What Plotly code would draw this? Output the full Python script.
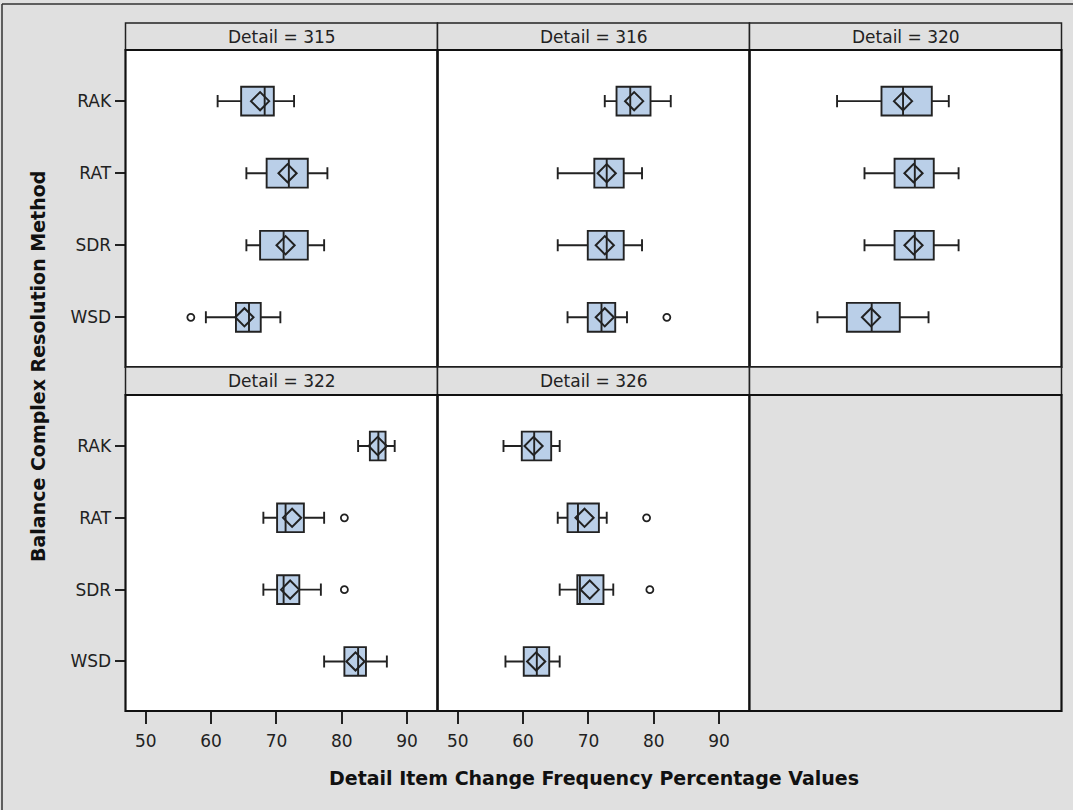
import plotly.graph_objects as go

# Panels (one per Detail value) and the methods on the category axis
DETAILS = [315, 316, 320, 322, 326]
METHODS = ["RAK", "RAT", "SDR", "WSD"]
X_TICKS = [50, 60, 70, 80, 90]

# Box statistics per detail, in METHODS order
WHISKER_LO = [
    [61.0, 65.4, 65.4, 59.2],
    [72.5, 65.3, 65.3, 66.8],
    [60.3, 64.5, 64.5, 57.3],
    [82.5, 68.0, 68.0, 77.3],
    [57.0, 65.3, 65.6, 57.3],
]
Q1 = [
    [64.6, 68.5, 67.5, 63.8],
    [74.3, 70.9, 69.9, 69.9],
    [67.1, 69.1, 69.1, 61.8],
    [84.3, 70.1, 70.1, 80.4],
    [59.8, 66.8, 68.3, 60.1],
]
MEDIAN = [
    [68.2, 71.9, 71.1, 65.8],
    [76.4, 72.8, 72.8, 72.0],
    [70.4, 72.2, 72.2, 65.6],
    [85.6, 71.4, 71.1, 82.5],
    [61.7, 68.4, 68.7, 62.1],
]
Q3 = [
    [69.6, 74.8, 74.8, 67.6],
    [79.5, 75.4, 75.4, 74.1],
    [74.8, 75.1, 75.1, 69.9],
    [86.7, 74.2, 73.5, 83.7],
    [64.3, 71.6, 72.3, 64.0],
]
WHISKER_HI = [
    [72.7, 77.8, 77.3, 70.6],
    [82.6, 78.2, 78.2, 75.9],
    [77.4, 78.9, 78.9, 74.3],
    [88.1, 77.3, 76.8, 86.9],
    [65.6, 72.8, 73.8, 65.6],
]
MEAN = [
    [67.5, 71.7, 71.4, 65.1],
    [77.0, 72.8, 72.5, 72.5],
    [70.4, 72.0, 72.0, 65.5],
    [85.5, 72.4, 72.1, 82.1],
    [61.6, 69.4, 70.2, 62.0],
]

# Outlying observations
OUT_DETAIL = [315, 316, 322, 322, 326, 326]
OUT_METHOD = ["WSD", "WSD", "RAT", "SDR", "RAT", "SDR"]
OUT_VALUE = [56.9, 82.0, 80.4, 80.4, 78.9, 79.4]

W, H = 1073, 810
BG = "#E0E0E0"
FILL = "#BACFE8"
INK = "#222222"
FONT = "DejaVu Sans, Verdana, sans-serif"
VALUE_SIZE = 17
LABEL_SIZE = 19


def px(x):
    return x / W


def py(y):
    return 1 - y / H


COL_EDGES = [125.5, 437.5, 749.5, 1061.5]
ROW_PLOT = [(50, 367), (395, 711)]
ROW_HEAD = [(23, 50), (367, 395)]

fig = go.Figure()
layout = dict(
    width=W, height=H,
    margin=dict(l=0, r=0, t=0, b=0),
    paper_bgcolor=BG, plot_bgcolor="white",
    showlegend=False,
    font=dict(family=FONT, size=VALUE_SIZE, color=INK),
)
shapes = []
annotations = []

for k in range(6):
    r, c = divmod(k, 3)
    n = k + 1
    xa, ya = f"x{n}", f"y{n}"
    x0, x1 = COL_EDGES[c], COL_EDGES[c + 1]
    y0, y1 = ROW_PLOT[r]
    layout[f"xaxis{n}"] = dict(
        domain=[px(x0), px(x1)], anchor=ya, range=[46.9, 94.65],
        tickvals=X_TICKS, showgrid=False, zeroline=False, showline=False,
        ticks="outside" if r == 1 else "", ticklen=12, tickwidth=1.5,
        tickcolor=INK, showticklabels=(r == 1), ticklabelstandoff=3,
        tickfont=dict(size=VALUE_SIZE, color=INK),
    )
    layout[f"yaxis{n}"] = dict(
        domain=[py(y1), py(y0)], anchor=xa, type="category",
        categoryorder="array", categoryarray=METHODS,
        range=[3.69, -0.71], showgrid=False, zeroline=False, showline=False,
        ticks="outside" if c == 0 else "", ticklen=10, tickwidth=1.5,
        tickcolor=INK, showticklabels=(c == 0),
        tickfont=dict(size=VALUE_SIZE, color=INK),
    )

    # panel frame and header strip
    h0, h1 = ROW_HEAD[r]
    if k < len(DETAILS):
        label = f"Detail = {DETAILS[k]}"
    else:
        label = ""
        shapes.append(dict(type="rect", xref="paper", yref="paper",
                           x0=px(x0), x1=px(x1), y0=py(y1), y1=py(y0),
                           fillcolor=BG, line=dict(width=0), layer="above"))
    shapes.append(dict(type="rect", xref="paper", yref="paper",
                       x0=px(x0), x1=px(x1), y0=py(h1), y1=py(h0),
                       fillcolor=BG, line=dict(color=INK, width=1.5)))
    shapes.append(dict(type="rect", xref="paper", yref="paper",
                       x0=px(x0), x1=px(x1), y0=py(y1), y1=py(y0),
                       line=dict(color="#111111", width=2.2)))
    if label:
        annotations.append(dict(text=label, xref="paper", yref="paper",
                                x=px((x0 + x1) / 2), y=py((h0 + h1) / 2),
                                showarrow=False, xanchor="center", yanchor="middle",
                                font=dict(size=VALUE_SIZE, color=INK)))

    if k >= len(DETAILS):
        continue

    fig.add_trace(go.Box(
        y=METHODS, q1=Q1[k], median=MEDIAN[k], q3=Q3[k],
        lowerfence=WHISKER_LO[k], upperfence=WHISKER_HI[k],
        orientation="h", xaxis=xa, yaxis=ya, width=0.4, whiskerwidth=0.42,
        fillcolor=FILL, line=dict(color=INK, width=1.9), boxpoints=False,
        hoverinfo="skip",
    ))
    fig.add_trace(go.Scatter(
        x=MEAN[k], y=METHODS, mode="markers", xaxis=xa, yaxis=ya,
        marker=dict(symbol="diamond-open", size=14, color=INK,
                    line=dict(width=2, color=INK)),
        hoverinfo="skip",
    ))
    ox = [v for d, v in zip(OUT_DETAIL, OUT_VALUE) if d == DETAILS[k]]
    oy = [m for d, m in zip(OUT_DETAIL, OUT_METHOD) if d == DETAILS[k]]
    if ox:
        fig.add_trace(go.Scatter(
            x=ox, y=oy, mode="markers", xaxis=xa, yaxis=ya,
            marker=dict(symbol="circle-open", size=7, color=INK,
                        line=dict(width=1.8, color=INK)),
            hoverinfo="skip",
        ))

# outer frame (top and left edges)
shapes.append(dict(type="line", xref="paper", yref="paper",
                   x0=px(2), x1=px(1080), y0=py(4), y1=py(4),
                   line=dict(color="#333333", width=1.5)))
shapes.append(dict(type="line", xref="paper", yref="paper",
                   x0=px(2), x1=px(2), y0=py(4), y1=py(820),
                   line=dict(color="#333333", width=1.5)))

annotations.append(dict(text="<b>Detail Item Change Frequency Percentage Values</b>",
                        xref="paper", yref="paper", x=px(593.5), y=py(778),
                        showarrow=False, xanchor="center", yanchor="middle",
                        font=dict(size=LABEL_SIZE, color="#111111")))
annotations.append(dict(text="<b>Balance Complex Resolution Method</b>",
                        xref="paper", yref="paper", x=px(38), y=py(367),
                        showarrow=False, xanchor="center", yanchor="middle",
                        textangle=-90, font=dict(size=LABEL_SIZE, color="#111111")))

layout["shapes"] = shapes
layout["annotations"] = annotations
fig.update_layout(**layout)
fig.write_html("out.html")
